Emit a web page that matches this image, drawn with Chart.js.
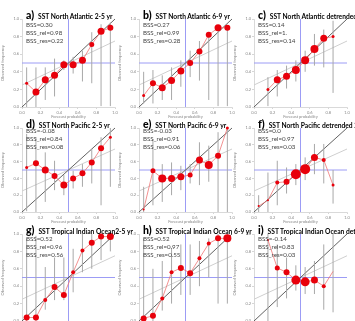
<!DOCTYPE html>
<html><head><meta charset="utf-8">
<script src="https://cdn.jsdelivr.net/npm/chart.js@4.4.1/dist/chart.umd.min.js"></script>
<style>
html,body{margin:0;padding:0;background:#fff;width:355px;height:321px;overflow:hidden;position:relative;font-family:Lato,"Open Sans",sans-serif}
canvas{position:absolute}
.t{position:absolute;white-space:nowrap;font-weight:700;color:#000;line-height:10px;height:10px}
.t b{font-size:10.5px}
.t span{font-size:6.7px}
.s{position:absolute;font-size:6.2px;line-height:8px;color:#444;white-space:nowrap}
</style></head><body>
<script>
// ---- data ----
const bins10 = [0.05,0.15,0.25,0.35,0.45,0.55,0.65,0.75,0.85,0.95];
const bins15to85 = [0.15,0.25,0.35,0.45,0.55,0.65,0.75,0.85];
const bins05to85 = [0.05,0.15,0.25,0.35,0.45,0.55,0.65,0.75,0.85];
const tickValues = [0,0.2,0.4,0.6,0.8,1.0];

const obsA = [0.27,0.17,0.31,0.36,0.48,0.48,0.53,0.71,0.86,0.90];
const weightA = [1.5,3.5,3.5,3.5,3.5,3.5,3.5,2.5,3.5,3];
const loA = [0.00,0.00,0.08,0.12,0.42,0.38,0.29,0.27,0.01,0.01];
const hiA = [0.45,0.45,0.45,0.55,0.53,0.57,0.64,0.85,0.94,0.96];

const obsB = [0.13,0.27,0.22,0.30,0.41,0.50,0.63,0.82,0.90,0.90];
const weightB = [1.5,3,3.5,3.5,3.5,3,3,3,3.5,3];
const loB = [0.04,0.04,0.08,0.08,0.23,0.34,0.30,0.08,0.01,0.01];
const hiB = [0.40,0.42,0.36,0.45,0.53,0.64,0.75,0.85,0.92,0.92];

const obsC = [0.20,0.31,0.35,0.42,0.53,0.66,0.78,0.80];
const weightC = [1.5,3.5,3.5,4,4,4,3.5,1.5];
const loC = [0.01,0.12,0.21,0.29,0.40,0.47,0.45,0.16];
const hiC = [0.34,0.42,0.47,0.53,0.64,0.83,0.88,0.98];

const obsD = [0.53,0.58,0.50,0.43,0.32,0.40,0.46,0.59,0.76,0.89];
const weightD = [1.5,3,3.5,3,3.5,3,3,3,3,1.5];
const loD = [0.01,0.00,0.12,0.26,0.20,0.28,0.30,0.34,0.08,0.30];
const hiD = [0.93,0.89,0.71,0.61,0.44,0.49,0.57,0.75,0.89,1.00];

const obsE = [0.03,0.49,0.40,0.40,0.42,0.44,0.62,0.56,0.67,1.00];
const weightE = [1,2.5,4,3.5,3.5,2.5,3.5,4,3,1.5];
const loE = [0.00,0.08,0.12,0.20,0.26,0.34,0.32,0.36,0.00,0.00];
const hiE = [0.30,0.87,0.57,0.59,0.55,0.57,0.83,0.79,0.95,1.00];

const obsF = [0.07,0.14,0.35,0.36,0.45,0.51,0.65,0.62,0.32];
const weightF = [1,1,2,3,5,5,3.5,2,1.5];
const loF = [0.00,0.00,0.08,0.22,0.32,0.38,0.45,0.34,0.10];
const hiF = [0.20,0.47,0.61,0.53,0.57,0.65,0.81,0.81,0.50];

const obsG = [0.04,0.04,0.24,0.39,0.30,0.56,0.81,0.90,0.97,0.97];
const weightG = [3,3,2,3,3,2,2,3,3,3.5];
const loG = [0.00,0.00,0.13,0.24,0.24,0.33,0.56,0.60,0.70,0.80];
const hiG = [0.95,0.98,0.62,0.73,0.73,0.83,1.00,1.00,1.00,1.00];

const obsH = [0.03,0.06,0.26,0.56,0.61,0.55,0.72,0.89,0.95,0.95];
const weightH = [3,3,2,2,3,3,2,2,3,4];
const loH = [0.00,0.00,0.12,0.20,0.30,0.30,0.40,0.50,0.20,0.20];
const hiH = [0.95,0.60,0.69,0.84,0.88,0.88,0.92,0.95,1.00,1.00];

const obsI = [0.93,0.61,0.56,0.47,0.45,0.47,0.40,0.57];
const weightI = [1,2.5,3,4.5,4.5,3.5,2,0];
const loI = [0.00,0.16,0.26,0.35,0.31,0.31,0.13,0.10];
const hiI = [1.00,0.88,0.73,0.64,0.62,0.69,0.88,1.00];

const diagonal = [[0,0],[1,1]];
const noSkill = [[0,0.25],[1,0.75]];
const climatology = 0.5;

const letters = ['a)','b)','c)','d)','e)','f)','g)','h)','i)'];
const titles = ['SST North Atlantic 2-5 yr','SST North Atlantic 6-9 yr','SST North Atlantic detrended 2-5 yr',
  'SST North Pacific 2-5 yr','SST North Pacific 6-9 yr','SST North Pacific detrended  2-5 yr',
  'SST Tropical Indian Ocean2-5 yr','SST Tropical Indian Ocean 6-9 yr','SST Tropical Indian Ocean detrended 2-5 yr'];
const bss = ['0.30','0.27','0.14','-0.08','-0.03','0.0','0.52','0.52','-0.14'];
const bssRel = ['0.98','0.99','1.','0.84','0.91','0.97','0.96','0.97','0.83'];
const bssRes = ['0.22','0.28','0.14','0.08','0.06','0.03','0.56','0.55','0.03'];

// ---- layout ----
const colLeft = [22,139,254];
const plotW = 93;
const rowTop = [18,127,233];
const rowH = [89,85,88];
const statsTop = [21,127,235];

const panels = [
  {bins:bins10, obs:obsA, w:weightA, lo:loA, hi:hiA},
  {bins:bins10, obs:obsB, w:weightB, lo:loB, hi:hiB},
  {bins:bins15to85, obs:obsC, w:weightC, lo:loC, hi:hiC},
  {bins:bins10, obs:obsD, w:weightD, lo:loD, hi:hiD},
  {bins:bins10, obs:obsE, w:weightE, lo:loE, hi:hiE},
  {bins:bins05to85, obs:obsF, w:weightF, lo:loF, hi:hiF},
  {bins:bins10, obs:obsG, w:weightG, lo:loG, hi:hiG},
  {bins:bins10, obs:obsH, w:weightH, lo:loH, hi:hiH},
  {bins:bins15to85, obs:obsI, w:weightI, lo:loI, hi:hiI}
];

const Y_AX = 22, X_AX = 12, PT = 3, PR = 4;
const pts = a => a.map(p => ({x:p[0], y:p[1]}));

panels.forEach((p, k) => {
  const r = Math.floor(k/3), c = k%3;
  const L = colLeft[c], T = rowTop[r], H = rowH[r];
  const cv = document.createElement('canvas');
  const cw = Y_AX + plotW + PR, ch = PT + H + X_AX;
  cv.width = cw; cv.height = ch;
  cv.style.left = (L - Y_AX) + 'px'; cv.style.top = (T - PT) + 'px';
  cv.style.width = cw + 'px'; cv.style.height = ch + 'px';
  document.body.appendChild(cv);

  const err = [];
  p.bins.forEach((x, i) => { err.push({x, y:p.lo[i]}, {x, y:p.hi[i]}, {x, y:null}); });

  const axisCommon = (title, fit) => ({
    type:'linear', min:0, max:1,
    afterBuildTicks: s => { s.ticks = tickValues.map(v => ({value:v})); },
    ticks:{font:{size:4, family:'Lato'}, color:'#888', padding:1, maxRotation:0, autoSkip:false, callback:v => Number(v).toFixed(1)},
    grid:{display:true, drawOnChartArea:false, tickLength:2, color:'#bbb', lineWidth:0.6},
    border:{color:'#cfcfcf', width:0.8},
    title:{display:true, text:title, font:{size:4, family:'Lato'}, color:'#888', padding:0},
    afterFit: fit
  });

  new Chart(cv, {
    type:'scatter',
    data:{datasets:[
      {data:p.bins.map((x,i)=>({x, y:p.obs[i]})), showLine:true, borderColor:'rgba(238,110,110,0.95)', borderWidth:0.8,
       pointRadius:p.w, pointBackgroundColor:'#e8000b', pointBorderColor:'#e8000b', pointBorderWidth:0, order:0},
      {data:err, showLine:true, spanGaps:false, borderColor:'#a8a8a8', borderWidth:1, pointRadius:0, order:1},
      {data:pts(diagonal), showLine:true, borderColor:'#3a3a3a', borderWidth:0.8, pointRadius:0, order:2},
      {data:pts(noSkill), showLine:true, borderColor:'#cfcfcf', borderWidth:1, pointRadius:0, order:3},
      {data:[{x:0,y:climatology},{x:1,y:climatology}], showLine:true, borderColor:'#9c9cf5', borderWidth:1, pointRadius:0, order:4},
      {data:[{x:climatology,y:0},{x:climatology,y:1}], showLine:true, borderColor:'#9c9cf5', borderWidth:1, pointRadius:0, order:5}
    ]},
    options:{
      responsive:false, animation:false, events:[],
      clip:false,
      plugins:{legend:{display:false}, tooltip:{enabled:false}},
      layout:{padding:{top:PT, right:PR, left:0, bottom:0}},
      scales:{
        x:axisCommon('Forecast probability', s => { s.height = X_AX; }),
        y:axisCommon('Observed frequency', s => { s.width = Y_AX; })
      }
    }
  });

  const t = document.createElement('div');
  t.className = 't';
  t.style.left = (L + 4) + 'px'; t.style.top = (T - 10) + 'px';
  t.innerHTML = '<b></b> <span></span>';
  t.querySelector('b').textContent = letters[k];
  t.querySelector('span').textContent = titles[k];
  document.body.appendChild(t);

  const s = document.createElement('div');
  s.className = 's';
  s.style.left = (L + 4) + 'px'; s.style.top = statsTop[r] + 'px';
  s.innerHTML = 'BSS=' + bss[k] + '<br>BSS_rel=' + bssRel[k] + '<br>BSS_res=' + bssRes[k];
  document.body.appendChild(s);
});
</script>
</body></html>
